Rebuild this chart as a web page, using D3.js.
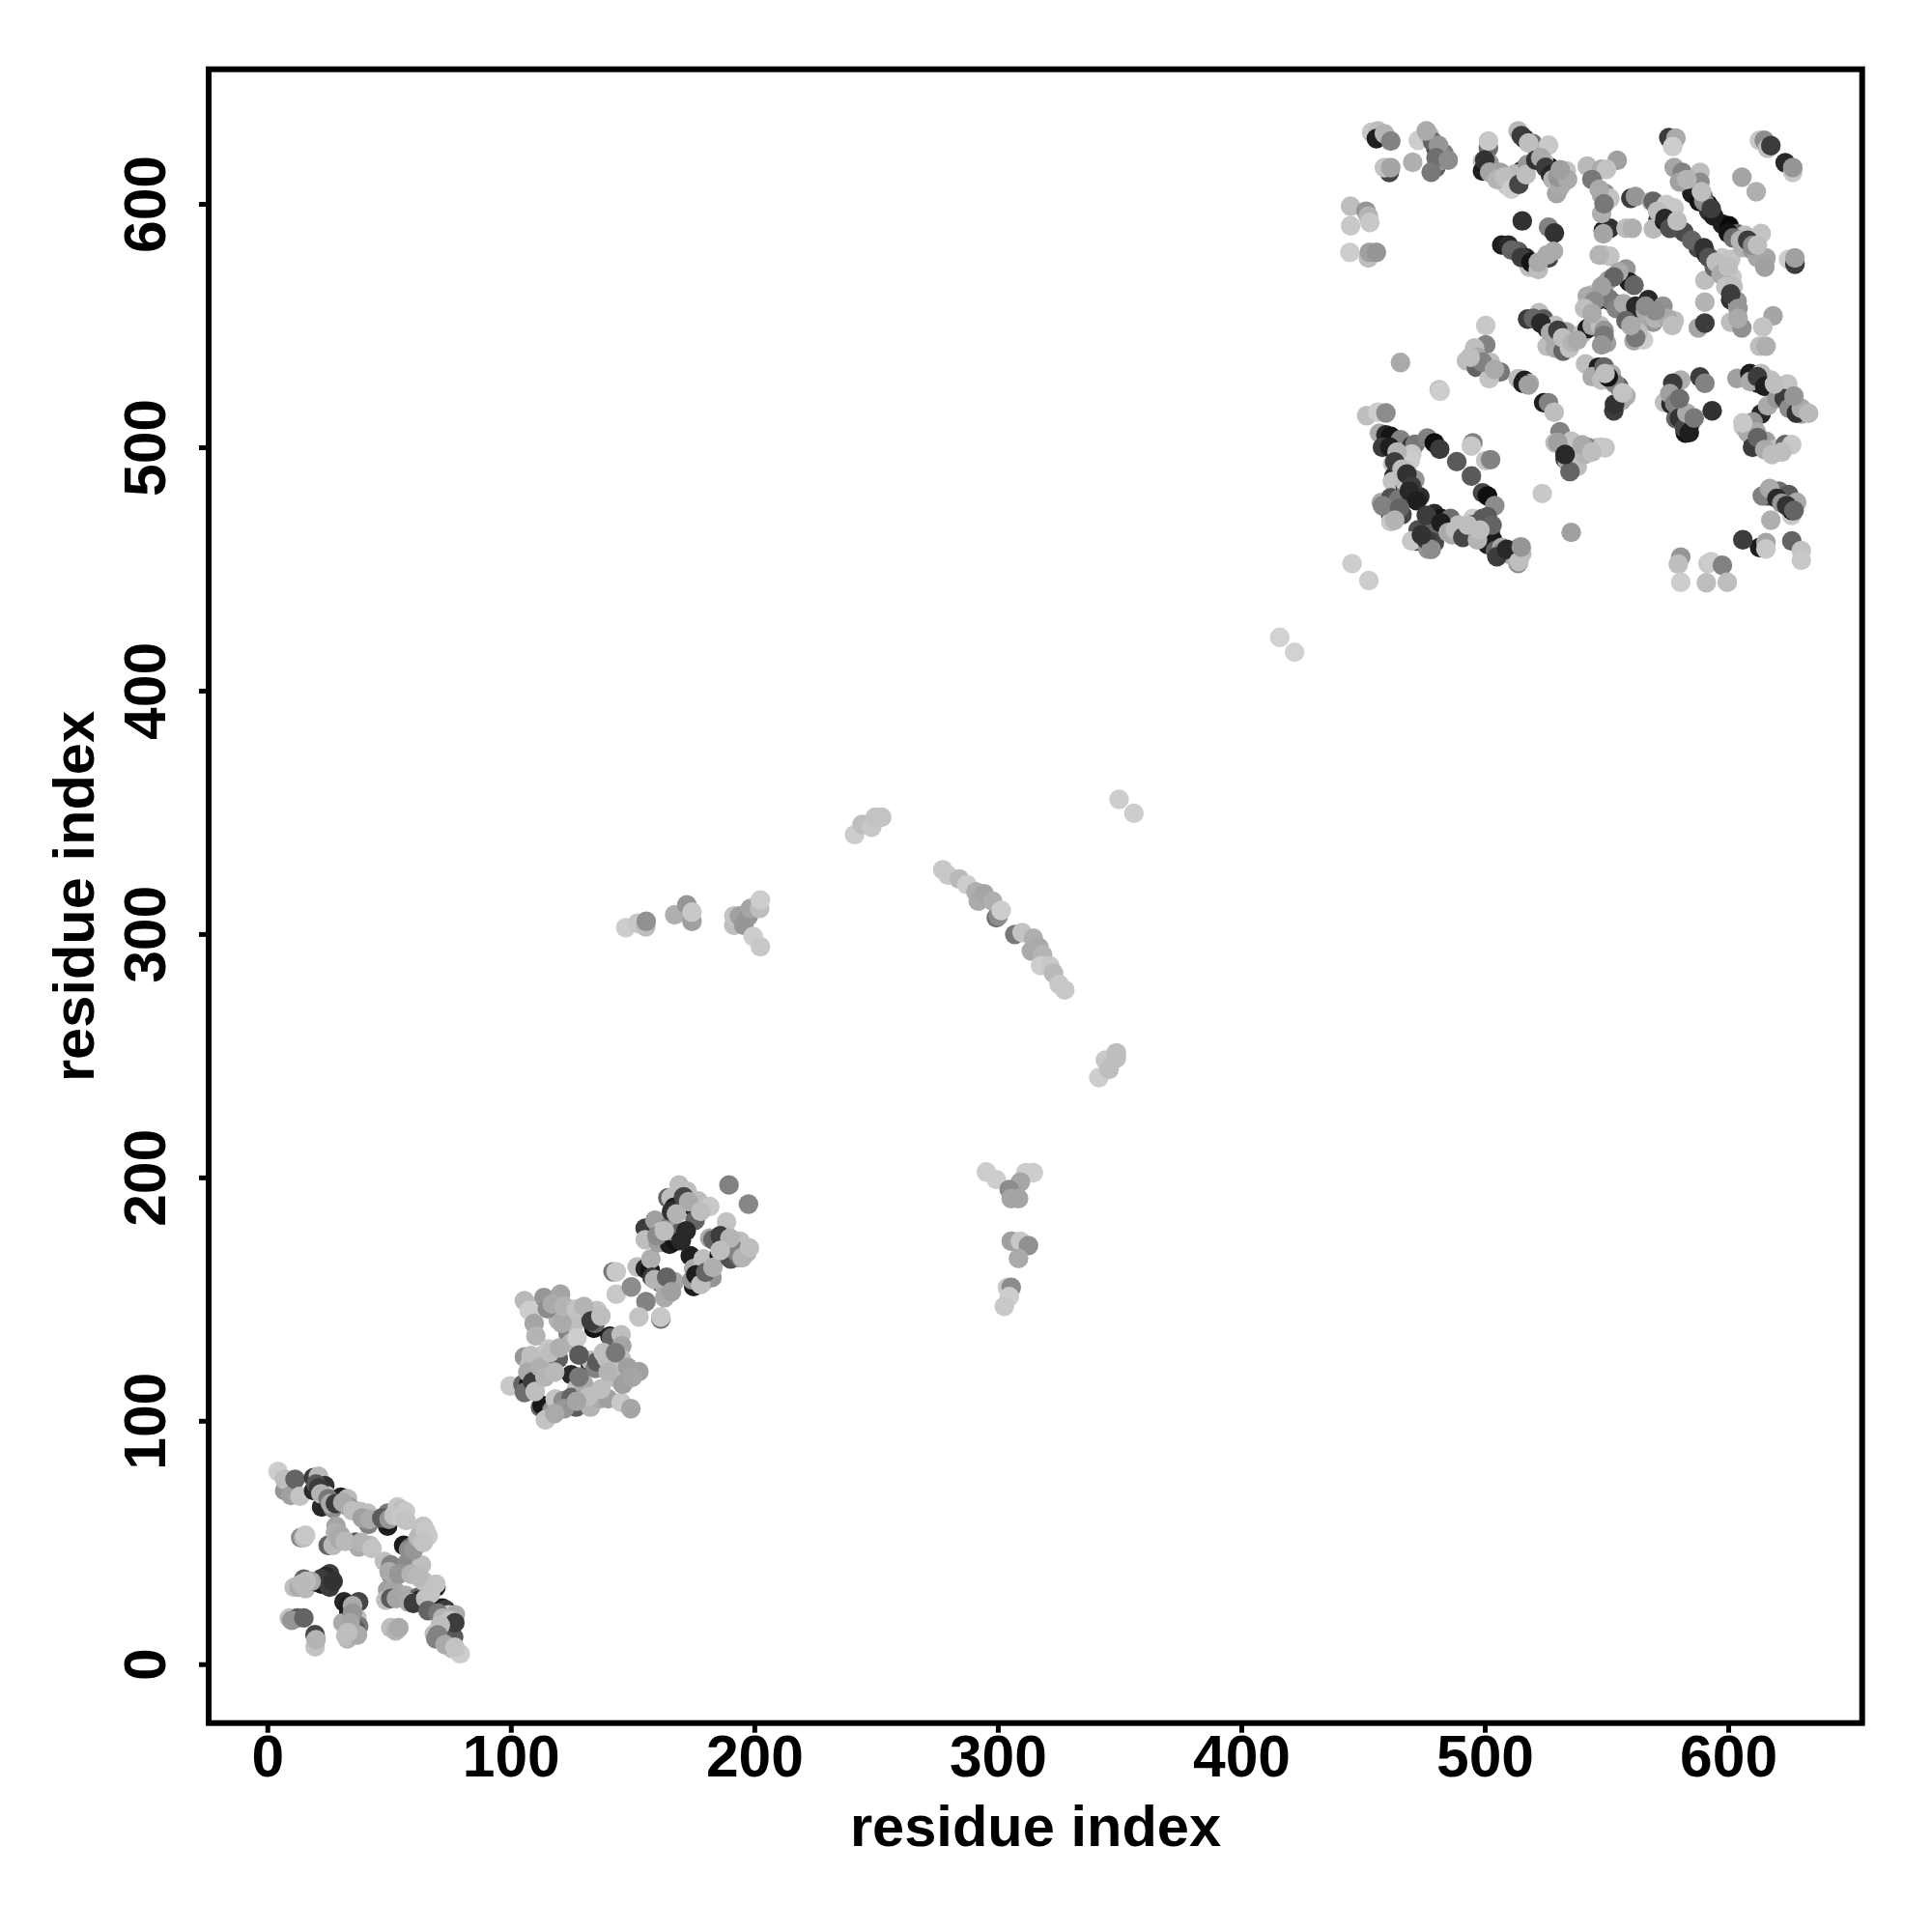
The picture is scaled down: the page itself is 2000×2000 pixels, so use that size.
<!DOCTYPE html>
<html><head><meta charset="utf-8"><script src="https://cdnjs.cloudflare.com/ajax/libs/d3/7.8.5/d3.min.js"></script>
<style>html,body{margin:0;padding:0;background:#fff}svg{display:block}text{font-family:"Liberation Sans",Arial,sans-serif;font-weight:bold;fill:#000}</style>
</head><body><svg id="c" width="2000" height="2000"></svg>
<script>
const xTicks=[0,100,200,300,400,500,600];
const yTicks=[0,100,200,300,400,500,600];
const axisTitle="residue index";
// each entry: residue i, residue j, grey level
const domainA=[[4.4,79.2,205],[7.1,71.3,150],[7.1,75.9,190],[9.7,69.3,160],[11.4,75.9,100],[13.4,69,195],
[19,71.3,40],[19,76.6,60],[21,77.2,185],[22.3,64.6,40],[23.6,73.3,50],[24.3,69.3,195],[27,64,140],[30.2,68.6,30],[32.9,68,185],[33.5,64.6,150],[36.8,62.7,80],[38.2,62.7,190],[41.2,62,190],[41.5,57.4,130],
[25,48.8,100],[27,48.8,185],[28.2,56.7,165],[29.6,51.4,170],[36.2,50.1,90],[37.5,48.1,170],[42.1,48.8,190],
[13.7,52,140],[15,52,190],[15.7,53,200],
[49.4,56.7,30],[49.4,58.7,20],[49.4,62,120],[53.4,64.6,200],[55,63.5,190],[56.7,62.7,200],
[56,48.8,25],[58.7,48.1,80],[61.3,50.1,140],[63,54,190],[64,56.7,195],[66,52.7,205],
[48.1,42.2,190],[50.7,36.9,100],[50.7,40.8,130],[57.3,41.5,140],[63.3,40.8,190],[49.4,30.5,160],[52,30.9,165],[56.7,28.3,170],[62,27.5,100],[62.6,26.3,40],[64,34.2,190],
[69.2,31.6,30],[69.2,32.9,195],[68,24.3,190],[71.9,23,30],[73.2,22.3,60],[74.5,19.7,40],[74.5,20.3,200],[77.2,20.3,170],
[48.7,26.3,190],[50.7,27,90],
[68.6,12.4,190],[69.2,10.4,130],[74.5,9,190],[72.8,11.1,95],[76.5,11.1,90],[75.9,6.4,190],[79.2,4.2,205],
[11,31.6,190],[13,31.6,170],[15,34.9,100],[15.7,31,185],[22.3,32.9,20],[20.3,33.6,30],[25.6,37.1,60],[25.6,31.6,60],
[31.5,25.6,40],[33.5,21,20],[37.5,25.6,70],[36.8,19,190],[31,17,170],[32.9,10.4,180],[37.5,15.7,120],[36.2,14.4,90],[32.2,11.7,190],
[9,19,195],[12.4,19,90],[19.6,7.1,195],[19.6,12.1,70],
[50.7,15,190],[52.7,13.7,180],[54,15,170]];
const extraA=[[20,74,90],[21,72.5,60],[22,70,180],[25,68,120],[26,66,170],[28,66,60],[31,66.5,170],[35,63,190],[39,60,160],[42,59.5,170],[28,54,175],[30,53,170],[32,50.5,185],[38.5,50,180],[43,47.5,195],[47,60,90],[50,59.5,150],[52,61,195],[55,60.5,200],[57,59,195],[58,47,140],[60,47,150],[62,52,185],[65,55,200],[64,50,195],[50,38,170],[54,37,150],[59,37,180],[62,36,185],[53,27,165],[58,25.5,170],[60,25,60],[65,27,190],[67,29,195],[66,22,100],[70,21,120],[72,19,180],[75,18,195],[77,17,60],[71,16,190],[70,12,130],[73,8,170],[77,7,195],
[24,36,40],[22,35,60],[18,34,170],[16,34,190],[14,33,185],[27,34,50],[33,24,30],[35,24,170],[35,21,150],[34,17,165],[37,12,170],[33,13,190],[20,10,180],[10,18,150],[15,19,100]];
const domainB=[[99.7,114.3,200],[105.6,149.3,185],[107.6,145.3,205],[109.6,140,165],[110.3,134.8,180],
[105,115,100],[107.3,115,25],[105.6,111.6,110],[105.6,126.2,150],[107.6,122.8,190],[108.3,126.8,190],[110.3,118.9,195],
[112.9,126.8,190],[115.5,129.5,200],[116.9,125.5,160],[119.5,125.5,95],
[113.6,150.6,150],[118.2,145.3,130],[120.4,152,165],[119.5,141.4,180],[123.5,136,130],[124.8,145.3,200],[126.1,140,190],[124.8,132.1,180],[127.2,134.1,205],
[131.4,144.7,170],[134.1,138,20],[134.7,140,100],[135.4,145.3,195],
[140.7,134.8,30],[141.3,134.1,100],[145.3,135.4,190],[145.6,130.8,165],[145.3,125.5,190],
[112.2,105.6,100],[112.9,106.3,25],[116.9,104.3,150],[114.2,100.4,195],[118.2,109,195],[121.5,108.3,140],
[124.8,118.9,40],[127.5,114,190],[126.8,112.3,190],[124.8,109.6,100],[126.8,105.6,90],[130.8,108.3,190],[132.7,105.6,180],
[132.7,122.8,30],[132.7,124.8,190],[134.7,121.5,130],[135.4,124.2,90],[139.4,125.5,190],
[144,117.5,130],[148.6,117.5,190],[148.6,119.5,170],[152.6,120.2,160],[136.7,109,170],[140,109,160],[145.3,107.6,200],[149.3,105,165],
[142,161.2,120],[143.3,161.2,200],[143.3,152,200],[149.5,155,140],[155.5,148.9,130],[152.6,142.7,195],[161.6,141.8,120],[161.6,142.7,200],
[151.9,163.2,190],[155.2,162.5,40],[157.2,161.9,20],[157.5,166.5,175],
[161.8,156.6,25],[163.2,155.2,170],[163.2,150.6,170],[167.1,157.2,165],
[173.7,167.8,30],[175.1,155.2,30],[174.4,157.9,150],[175.1,162.5,170],[177.7,161.2,190],[179,157.2,130],[179,166.5,190],[182.6,158.8,150],
[155.2,179.1,60],[155.2,174.4,190],[159.2,182.4,160],[160.5,173.1,160],[161.8,177.7,195],[165.2,172.5,30],[167.8,173.8,20],[165.8,181,130],[167.1,177.7,160],
[164.5,191.6,100],[165.8,191.6,190],[167.1,187.7,30],[169.1,196.9,190],[170.5,186.4,195],[172.4,194.3,190],[175.1,187.7,30],[175.7,182.4,100],[177,190.3,190],[181.7,188,200],
[189.6,196.9,130],[197.6,189,135],[188.6,181.7,195],
[185.6,167.8,20],[181.7,175,170],[183,174.4,100],[187,173.1,30],[188.3,169.1,170],[190.3,166.5,80],[191,171.8,190],[193.6,167.2,100],[194.2,173.8,190],[196.9,169.1,180]];
const extraB=[[107,120,170],[109,116,60],[110,112,190],[112,122,175],[114,118,180],[118,120,185],[116,128,190],[120,130,175],[121,140,170],[115,146,140],[117,148,170],[122,147,180],[127,146,195],[130,147,180],[133,141,60],[137,143,190],[128,127,90],[130,115,170],[128,118,120],[132,110,190],[122,105,150],[118,103,170],[127,108,165],[137,113,190],[142,118,190],[146,115,160],[140,120,180],[138,128,190],[143,128,120],[148,122,160],[150,118,165],
[158,159,60],[159,158,180],[164,159,100],[166,153,160],[176,160,30],[178,156,190],[180,161,100],[183,163,175],[169,177,100],[172,178,40],[160,176,140],[163,178,190],[170,174,40],[171,192,70],[173,190,170],[178,186,190],[166,186,50],[168,185,180],[186,176,60],[189,171,30],[192,170,130],[190,175,180],[186,170,190],[195,167,180],[198,171,190]];
const domainC=[[453.5,629.4,200],[456.1,630,190],[455.5,626.8,30],[458.8,628.8,180],[461.4,625.8,130],
[460.8,612.9,70],[458.8,614.9,195],[461.4,614.9,165],[470.4,617.1,175],[472.7,626.1,205],
[477.3,628.1,180],[479.9,622.8,60],[478.6,625.5,100],[479.9,614.9,90],[481.9,620.2,130],[481.3,617.5,150],[483.2,620.8,125],
[444.9,599,190],[451.2,597,150],[444.9,591,200],[452.2,595,180],[452.8,592.4,200],
[444.6,580.1,205],[452.2,577.8,190],[452.6,580.1,160],[455.5,580.1,150],
[501.5,622.8,110],[501.5,625.8,200],[499.1,617.5,190],[499.1,613.5,30],[501.8,616.8,150],[503.7,612.2,40],[506.4,612.9,160],[509,607.6,200],[515,613.5,60],[512.3,612.2,185],[517.6,616.2,150],
[513.7,630,185],[516.3,626.8,30],[519.6,624.8,110],[521.6,621.5,170],[526.2,624.1,200],[526.9,614.9,20],[524.2,617.5,190],[529.5,610.9,30],[529.5,604.3,165],[532.2,608.9,160],[533.5,613.5,195],
[542.1,615.5,185],[548,614.2,170],
[515.4,593,50],[526.2,590.4,130],[528.6,588,50],
[507,583.1,30],[509.7,583.1,40],[513.7,580.5,90],[517,577.8,40],[518.3,574,190],[520.3,574.5,175],[526.2,577.8,70],[525.6,579,170],[528.2,580.5,170],
[517.6,552.7,60],[522.3,555.3,190],[524.2,552.7,90],[525.6,548.7,25],[528.9,550,190],[533.5,547.4,160],[525.6,541.5,190],[528.9,540.8,170],[532.2,539.5,100],[534.8,540.8,195],[540.1,546.7,190],[542.1,548.7,30],[544.1,550,165],
[500.4,550,200],[500.4,542.1,130],[495.8,540.8,190],[492.5,535.5,190],[496.5,532.9,100],[502.4,534.8,190],[506.4,530.9,120],[501.8,528.2,195],
[465.4,534.8,170],[513.7,528.2,190],[516.3,527.5,30],[518.3,526.2,175],[481.3,523.6,190],
[541.4,534.2,190],[546.7,532.9,30],[544.1,529,170],[548,527.6,190],[544,562.6,190],[542.1,562,170],[548,562,30],[546.7,560.6,50],[549,566.6,100],
[548,603.6,170],[548.7,589,30],[548.7,579,195],
[575.6,627.2,60],[578.5,627,170],[577.2,623.5,205],[612.8,626.1,200],[614.8,626.1,140],[616.2,622.8,190],[617.5,623.9,60],[623.4,616.9,40],[626.5,612.9,200],[626.5,614.9,150],
[605.6,610.9,165],[611.5,605,175],[554.4,617.9,160],[550,614.2,195],
[577.8,614.9,165],[581.1,612.9,130],[583.8,607.6,190],[588.4,612.9,190],[588.4,608.9,140],[585.1,604.3,30],[589.7,603,130],[591.7,599.7,10],[592,597.6,140],
[549.4,604.3,140],[551.4,602.3,195],[560,602.3,60],[561.9,603,150],[568.5,601,170],[569.2,601,100],[574.5,599.7,200],[577.8,598.3,200],
[571.2,593.7,60],[569.2,589.7,185],[573.8,593,25],[578.5,590.4,30],[581.8,588.4,75],
[551.4,590,50],[548.7,587.7,165],[558,590,190],[560.6,590,175],
[597.6,591.7,30],[600.3,591,10],[603.6,587.7,100],[606.9,587.1,190],[611.5,583.1,140],[613.5,587.8,195],[615.5,577.8,165],
[587.7,581.8,70],[591,579.2,30],[590.4,568.6,190],[594.3,573.9,100],[597.6,577.8,200],[601,577.2,195],[601.6,569.9,200],
[624.8,577.2,205],[627.4,575.2,60],[627.4,577.8,160],
[551.4,578.5,195],[550.7,568.6,165],[558,573.2,150],[559.3,567.9,30],[561.3,566.6,100],
[550.7,560.6,30],[552.7,559.3,70],[567.2,560.6,40],[569.2,551.4,150],[573.2,558,145],[577.8,552,190],
[559.3,552,50],[561.3,543.7,170],[562.6,549.4,170],[565.2,544.1,205],[547.4,550,190],[550,542.8,160],
[590.4,559.6,180],[587.7,549,165],[590.4,551,60],[601,560.6,50],[603.6,560,150],[601,551.4,190],[605.6,549,145],
[618.4,554,165],[614.2,549.4,195],[612.9,541.5,190],[615.5,541.5,175]];
const extraC=[[481,624,150],[476,630,170],[480,619,110],[485,618,140],[478,613,120],
[500,618,50],[502,613,165],[505,610,180],[508,611,190],[511,606,205],[514,608,70],[517,612,190],
[515,628,60],[518,625,190],[521,618,50],[523,619,170],[525,615,60],[527,612,40],[528,610,180],[531,607,170],[530,611,150],[534,610,170],[531,614,160],
[511,581,100],[515,578,60],[519,576,20],[522,573,190],[522,576,170],
[520,553,100],[523,551,40],[527,547,170],[530,548,60],[532,545,190],[536,543,180],[538,544,170],
[497,537,170],[499,535,130],[494,537,190],[504,532,170],
[551,561,120],[554,557,130],[557,559,170],[562,558,40],[566,556,170],[570,553,180],[555,572,170],[553,570,100],[549,548,150],
[548,566,160],[545,560,140],[541,557,190],[544,555,170],[549,533,100],[552,530,170],[555,525,100],[558,521,175],[556,519,170],[553,515,60],
[544,610,120],[548,596,175],[547,606,170],[549,600,120],[547,579,180],
[571,597,190],[574,594,40],[576,590,80],[579,593,190],[585,585,100],
[580,609,160],[583,610,180],[588,601,20],[592,597,50],[590,601,140],[589,605,190],[594,595,30],[593,598,60],
[600,588,20],[602,586,110],[605,585,180],[606,582,180],[610,581,150],[612,578,165],[615,574,160],[608,585,60],[610,583,140],[612,583,190],
[590,582,50],[592,578,80],[595,576,190],[597,571,170],[599,566,195],[602,566,190],[600,574,190],[601,563,60],[604,557,150],[604,553,170],
[563,547,190],[558,552,100],[562,545,120],[560,550,170],[566,558,140],[575,553,170],[577,550,190],[570,556,140],[549,546,120],[548,542,150]];
const domainD=[[580.5,527.6,175],[577.2,526.3,60],[588.4,528.9,60],[590.4,526.3,130],[593.4,515,50],
[573.8,518.4,190],[576.5,517.7,40],[579.8,514.4,110],[578.5,511.8,100],[581.8,511,150],[582.4,505.8,20],[584.4,509.8,50],
[603.6,528.3,160],[608.9,530.3,30],[612.2,526.3,40],[613.5,530.3,190],[617.5,527.6,190],[621.5,523.6,130],[624.4,526,195],[624.8,519.7,40],[627.4,517,30],[630.1,513.7,165],[613.5,513.7,40],[616.2,517,170],
[606.2,508.4,195],[610.2,510.4,150],[611.5,506.4,170],[610.2,503.1,30],[615.5,502.5,160],[619.5,499.2,190],[623.4,501.1,100],[626.1,501.1,200],
[549.4,499.8,195],[546.1,499.8,190],
[615.5,480,90],[617.5,480,60],[620.8,482,110],[624.8,480.6,90],[626.1,472,200],[626.1,474.1,20],[628.1,477.4,170],[617.5,470,175],
[612.9,458.8,30],[615.5,460.8,165],[615.5,458.2,200],[626.1,461.5,100],[630,457.5,195],[630,453.5,200],
[580.5,454.9,150],[579.5,452,190],[580.5,444.5,205],[591.7,452.2,200],[593,453,205],[597.6,451.5,130],[591,444.3,190],[599.6,444.5,190],
[553.3,526.3,130],[550.7,528.9,20],[549.4,530.3,190],[553.3,517.7,50],[556.6,522.3,195],
[481.7,523,205],[445.5,452.2,205],[452.4,445.2,205],
[451.5,513,190],[456.1,514.4,205],[459.4,514.1,140],[456.8,505.8,170],[459.4,505.1,40],[461.4,504.5,20],[462.7,499.8,40],[465.4,503.1,130],[470,500.5,50],[471.3,501.2,120],[470,497.2,200],[476.4,503.8,130],[479.3,501.8,15],[481.5,499.2,60],
[463.7,493.2,50],[462.1,493.2,200],[469.4,494.5,205],[462.7,487.9,40],[462.1,485.9,195],[468,490.6,200],
[495.1,501.8,130],[494.5,500.5,200],[500.4,494.5,195],[502.4,494.9,130],[488.5,494.1,90],[494.5,488.2,90],
[499.1,481.3,70],[501.1,480,15],[504.1,476,140],
[467.4,484,30],[467.4,485.3,190],[471.3,486.6,150],[470,480,20],[473.3,479.7,45],
[457.5,477.3,170],[461.4,479.3,80],[464.7,478.7,120],[461.4,472,50],[463,472,60],[461.4,469.4,200],[466,472.3,70],
[479.3,472.7,40],[482,470.7,20],[485.9,470.7,110],[472.7,466.1,80],[472,461.5,50],[470,461.5,200],[479.3,466.8,100],[479.3,460.8,70],[476.6,458.2,150],
[489.2,468.1,190],[486.6,464.1,170],[495.1,470.7,205],[494.5,468.1,60],[492.5,464.1,195],[495.8,464.1,60],[499.1,470.7,90],
[501.1,471.4,90],[502.4,465.4,120],[503.1,462.1,25],[501.1,460.1,30],[504.4,457.5,100],[507,458.8,170],
[514.3,458.8,140],[512.4,456.2,170],[513.7,452.2,140],[515.2,456.2,190],
[523.6,481,200],[535.5,465,160],
[515.7,526.3,30],[517.9,525.6,160],[524.2,518.3,30],[526.2,518.3,130],[528.5,514.4,190],[530.9,506.4,130],[528.9,501.8,190],[535.5,502.5,195],[542.1,500,130],[548,500,200],
[533,495.2,60],[536.2,494.5,180],[536.2,491.9,170],[538.8,497.2,190],[537.5,495.9,190]];
const extraD=[[576,522,160],[578,518,130],[580,512,50],[582,508,70],[584,506,30],[583,514,170],[580,520,110],[586,512,120],
[609,527,170],[612,529,60],[615,525,30],[620,520,150],[623,520,60],[625,516,140],[628,514,50],[630,516,170],[633,514,185],[619,526,190],[627,521,150],
[608,506,170],[610,500,60],[612,504,100],[615,499,170],[618,497,190],[622,498,190],[606,510,200],
[614,480,130],[617,483,170],[620,479,40],[622,477,150],[624,476,50],[627,474,100],
[458,500,60],[461,500,30],[464,498,180],[463,494,60],[466,491,190],[468,489,50],[470,484,60],[469,482,40],[472,478,30],
[458,476,130],[465,475,100],[463,470,180],[476,472,60],[482,469,30],[485,465,170],[488,466,190],[491,463,70],[493,468,190],[497,462,180],[503,468,100],[507,457,140],[510,456,170],[505,455,60],[509,458,40],[498,466,190],
[476,462,60],[478,458,140],[474,464,50],
[514,453,190],[515,459,150],[606,462,60],
[530,502,160],[534,494,170],[538,492,190],[541,497,180],[535,490,100],[533,497,40],[540,501,170],[544,498,190]];
const domainE=[[147.2,302.6,205],[152,304.4,200],[155.4,302.9,190],[155.6,305.2,145],
[167.3,307.9,175],[172.3,312,150],[174.4,305.2,160],[174.4,309,200],
[191.6,303.6,190],[191.6,307.4,195],[193.9,307.4,160],[195.7,303.6,150],[197.6,307.4,150],[198.4,310.5,165],[202.2,310.5,190],[202.5,314,205],
[199.5,299,205],[202.5,294.8,200],
[241.2,340.8,205],[244.3,345,190],[248.2,343.9,200],[249.7,348,195],[252.3,348,195],
[277.4,326.4,200],[279.6,324.1,200],[284.2,322.6,185],[287.3,320.3,205],[291,317.3,175],[292,313.5,170],[294.4,316.5,165],[297.9,313.5,175],[299.4,306.7,110],[300.2,307.4,140],[301.4,309.7,205],
[307,299.8,120],[310,300.6,195],[314.6,298.3,175],[313.8,293,170],[316.9,294.5,170],[318.4,291.5,180],[317.6,287,205],[321.4,286.9,200],[322.9,283.9,185],[325.2,279.3,200],[327.5,277,200],
[349.8,355.3,205],[355.9,349.6,205],
[341.5,241,205],[344.2,248.2,200],[345.7,244.4,190],[348.7,248.9,190],[348.7,251.2,190],
[295.3,202.2,205],[299.4,199.1,205],[311.5,201.9,205],[314.6,201.9,205],[309.3,198.1,165],[304.7,195,140],[305.5,191.3,165],[308.5,191.3,165],
[305.5,173.8,160],[309.3,173.8,200],[312.6,172,145],[308.5,166.7,170],
[304,154.8,200],[305.5,154.8,140],[304.7,151,205],[302.7,147,200],
[415.8,421.9,210],[421.9,415.8,210]];

const width=2000,height=2000;
const box={l:216,t:71.7,r:1927.7,b:1783.7};
const x=d3.scaleLinear().domain([-24.1,655]).range([box.l,box.r]);
const y=d3.scaleLinear().domain([-24.2,655.3]).range([box.b,box.t]);
const grey=d3.scaleLinear().domain([0,255]).range(["#000","#fff"]);
const svg=d3.select("#c");
svg.append("rect").attr("width",width).attr("height",height).attr("fill","#fff");
const contacts=[...domainA,...extraA,...domainB,...extraB,...domainE,...domainC,...extraC,...domainD,...extraD];
svg.append("g").selectAll("circle").data(contacts).join("circle")
  .attr("cx",d=>x(d[0])).attr("cy",d=>y(d[1])).attr("r",10.2).attr("fill",d=>grey(d[2]));
svg.append("rect").attr("x",box.l).attr("y",box.t).attr("width",box.r-box.l).attr("height",box.b-box.t)
  .attr("fill","none").attr("stroke","#000").attr("stroke-width",6);
const xa=svg.append("g").attr("transform",`translate(0,${box.b})`)
  .call(d3.axisBottom(x).tickValues(xTicks).tickFormat(d3.format("d")).tickSize(10));
const ya=svg.append("g").attr("transform",`translate(${box.l},0)`)
  .call(d3.axisLeft(y).tickValues(yTicks).tickFormat(d3.format("d")).tickSize(10));
[xa,ya].forEach(a=>{a.select(".domain").remove();a.selectAll("line").attr("stroke","#000").attr("stroke-width",5);
  a.selectAll("text").style("font-size","60.5px").style("font-family",'"Liberation Sans"').style("font-weight","bold").attr("fill","#000");});
xa.selectAll("text").attr("dy",null).attr("y",55);
ya.selectAll("text").attr("x",null).attr("dy",null).attr("text-anchor","middle")
  .attr("transform",`translate(${171-box.l},0) rotate(-90)`);
svg.append("text").attr("x",1072).attr("y",1911).attr("text-anchor","middle").style("font-size","59.6px").text(axisTitle);
svg.append("text").attr("transform","translate(97,928) rotate(-90)").attr("text-anchor","middle").style("font-size","59.6px").text(axisTitle);
</script></body></html>
